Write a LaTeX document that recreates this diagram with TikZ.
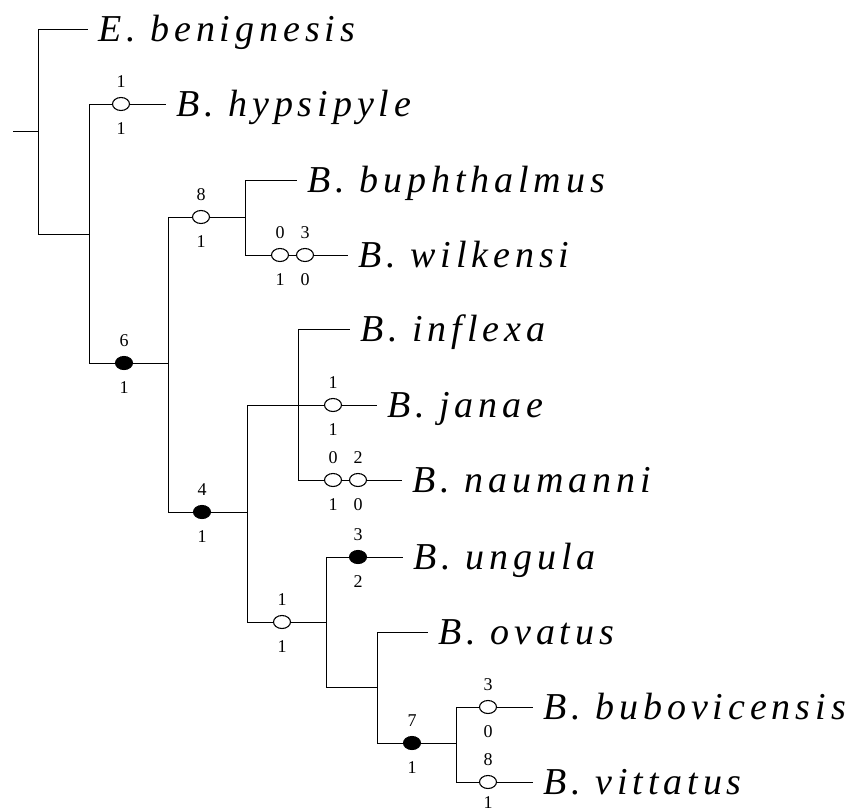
\documentclass[tikz,border=0pt]{standalone}
\usepackage{fontspec}
\setmainfont{Liberation Serif}
\newfontfamily\taxfont[LetterSpace=13]{Liberation Serif}
\usetikzlibrary{shapes.geometric}

\tikzset{
    taxon/.style={anchor=west, font=\taxfont\itshape\fontsize{38}{40}\selectfont,
        inner xsep=10pt, inner ysep=0pt, text height=29pt, text depth=4pt},
    branch/.style={line width=1pt},
    openc/.style={ellipse, draw, fill=white, line width=1.1pt, minimum width=17pt,
        minimum height=13pt, inner sep=0pt},
    fullc/.style={openc, fill=black},
    chg/.style 2 args={label={above:#1}, label={[label distance=11pt]below:#2}},
    every label/.style={font=\fontsize{18}{18}\selectfont, inner sep=0pt},
    label distance=9pt
}

\begin{document}
\begin{tikzpicture}[x=1pt, y=-1pt]
    \useasboundingbox (0,0) rectangle (847,811);
    % Taxa:
    \node[taxon] (ebe) at (88,29) {E. benignesis};
    \node[taxon] (hyp) at (166,104) {B. hypsipyle};
    \node[taxon] (buph) at (297,180) {B. buphthalmus};
    \node[taxon] (wilk) at (348,255) {B. wilkensi};
    \node[taxon] (infl) at (350,329) {B. inflexa};
    \node[taxon] (jan) at (377,405) {B. janae};
    \node[taxon] (naum) at (402,480) {B. naumanni};
    \node[taxon] (ung) at (403,557) {B. ungula};
    \node[taxon] (ova) at (428,632) {B. ovatus};
    \node[taxon] (bubo) at (533,707) {B. bubovicensis};
    \node[taxon] (vitt) at (533,782) {B. vittatus};
    % Internal nodes:
    \coordinate (r0) at (13,131);
    \coordinate (n0) at (38,131);
    \coordinate (n1) at (89,234);
    \coordinate (n2) at (168,363);
    \coordinate (n3) at (245,217);
    \coordinate (n4) at (247,512);
    \coordinate (n5) at (298,405);
    \coordinate (n6) at (326,622);
    \coordinate (n7) at (377,687);
    \coordinate (n8) at (456,743);
    % Branches:
    \draw[branch] (r0) -- (n0);
    \draw[branch] (n0) |- (ebe.west);
    \draw[branch] (n0) |- (n1);
    \draw[branch] (n1) |- (hyp.west);
    \draw[branch] (n1) |- (n2);
    \draw[branch] (n2) |- (n3);
    \draw[branch] (n2) |- (n4);
    \draw[branch] (n3) |- (buph.west);
    \draw[branch] (n3) |- (wilk.west);
    \draw[branch] (n4) |- (n5);
    \draw[branch] (n4) |- (n6);
    \draw[branch] (n5) |- (infl.west);
    \draw[branch] (n5) -- (jan.west);
    \draw[branch] (n5) |- (naum.west);
    \draw[branch] (n6) |- (ung.west);
    \draw[branch] (n6) |- (n7);
    \draw[branch] (n7) |- (ova.west);
    \draw[branch] (n7) |- (n8);
    \draw[branch] (n8) |- (bubo.west);
    \draw[branch] (n8) |- (vitt.west);
    % Character changes:
    \node[openc, chg={1}{1}] (c1) at (121,104) {};
    \node[fullc, chg={6}{1}] (c2) at (124,363) {};
    \node[openc, chg={8}{1}] (c3) at (201,217) {};
    \node[openc, chg={0}{1}] (c4) at (280,255) {};
    \node[openc, chg={3}{0}] (c5) at (305,255) {};
    \node[fullc, chg={4}{1}] (c6) at (202,512) {};
    \node[openc, chg={1}{1}] (c7) at (333,405) {};
    \node[openc, chg={0}{1}] (c8) at (333,480) {};
    \node[openc, chg={2}{0}] (c9) at (358,480) {};
    \node[openc, chg={1}{1}] (c10) at (282,622) {};
    \node[fullc, chg={3}{2}] (c11) at (358,557) {};
    \node[fullc, chg={7}{1}] (c12) at (412,743) {};
    \node[openc, chg={3}{0}] (c13) at (488,707) {};
    \node[openc, label={above:8}, label={[label distance=7pt]below:1}] (c14) at (488,782) {};
\end{tikzpicture}
\end{document}
